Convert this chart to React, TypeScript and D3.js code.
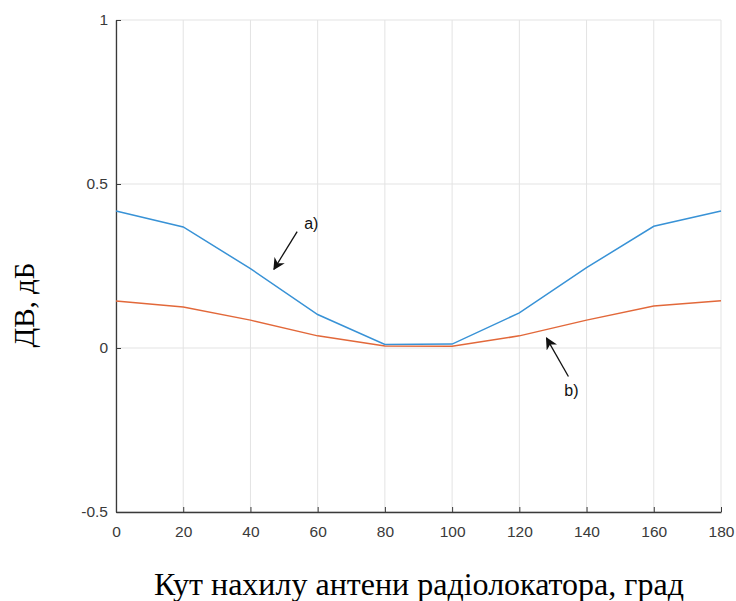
import React, { useEffect, useRef } from "react";
import * as d3 from "d3";

// tilt angle, degrees
const angles = [0, 20, 40, 60, 80, 100, 120, 140, 160, 180];
// curve a)
const seriesA = [0.418, 0.369, 0.242, 0.102, 0.011, 0.012, 0.107, 0.245, 0.371, 0.418];
// curve b)
const seriesB = [0.143, 0.125, 0.085, 0.037, 0.006, 0.005, 0.037, 0.085, 0.128, 0.144];

const xTicks = [0, 20, 40, 60, 80, 100, 120, 140, 160, 180];
const yTicks = [-0.5, 0, 0.5, 1];

// arrows in data units: [tailX, tailY, tipX, tipY]
const arrowA = [53.9, 0.355, 47.0, 0.24];
const arrowB = [134.6, -0.087, 128.1, 0.03];
const labelA = { x: 56, y: 0.362, text: "a)" };
const labelB = { x: 133.4, y: -0.146, text: "b)" };

const App = () => {
  const svgRef = useRef<SVGSVGElement>(null);

  useEffect(() => {
    const svg = d3.select(svgRef.current);
    svg.selectAll("*").remove();

    const W = 736;
    const H = 601;
    const margin = { top: 20, right: 15, bottom: 89, left: 116 };
    const width = W - margin.left - margin.right;
    const height = H - margin.top - margin.bottom;

    const g = svg.append("g").attr("transform", `translate(${margin.left},${margin.top})`);

    const x = d3.scaleLinear().domain([0, 180]).range([0, width]);
    const y = d3.scaleLinear().domain([-0.5, 1]).range([height, 0]);

    // grid
    g.append("g")
      .selectAll("line")
      .data(xTicks)
      .enter()
      .append("line")
      .attr("x1", (d) => x(d))
      .attr("x2", (d) => x(d))
      .attr("y1", 0)
      .attr("y2", height)
      .attr("stroke", "#e3e3e3")
      .attr("stroke-width", 1);

    g.append("g")
      .selectAll("line")
      .data(yTicks)
      .enter()
      .append("line")
      .attr("x1", 0)
      .attr("x2", width)
      .attr("y1", (d) => y(d))
      .attr("y2", (d) => y(d))
      .attr("stroke", "#e3e3e3")
      .attr("stroke-width", 1);

    const axisColor = "#3a3a3a";
    const tickFont = "Liberation Sans, Arial, sans-serif";

    // x axis, ticks inside
    const xAxis = g
      .append("g")
      .attr("transform", `translate(0,${height})`)
      .call(d3.axisBottom(x).tickValues(xTicks).tickSizeInner(-5).tickSizeOuter(0).tickPadding(14));
    xAxis.select(".domain").attr("stroke", axisColor).attr("stroke-width", 1.3);
    xAxis.selectAll("line").attr("stroke", axisColor);
    xAxis
      .selectAll("text")
      .style("font-family", tickFont)
      .style("font-size", "15.5px")
      .attr("fill", axisColor);

    // y axis, ticks inside
    const yAxis = g
      .append("g")
      .call(
        d3
          .axisLeft(y)
          .tickValues(yTicks)
          .tickFormat((d) => String(d))
          .tickSizeInner(-5)
          .tickSizeOuter(0)
          .tickPadding(8)
      );
    yAxis.select(".domain").attr("stroke", axisColor).attr("stroke-width", 1.3);
    yAxis.selectAll("line").attr("stroke", axisColor);
    yAxis
      .selectAll("text")
      .style("font-family", tickFont)
      .style("font-size", "15.5px")
      .attr("fill", axisColor);

    // lines
    const line = d3
      .line<number>()
      .x((_, i) => x(angles[i]))
      .y((d) => y(d));

    g.append("path")
      .datum(seriesA)
      .attr("fill", "none")
      .attr("stroke", "#3892d6")
      .attr("stroke-width", 1.5)
      .attr("d", line);

    g.append("path")
      .datum(seriesB)
      .attr("fill", "none")
      .attr("stroke", "#e2683a")
      .attr("stroke-width", 1.5)
      .attr("d", line);

    // arrow marker
    svg
      .append("defs")
      .append("marker")
      .attr("id", "head")
      .attr("viewBox", "0 0 10 10")
      .attr("refX", 9)
      .attr("refY", 5)
      .attr("markerWidth", 12)
      .attr("markerHeight", 12)
      .attr("markerUnits", "userSpaceOnUse")
      .attr("orient", "auto")
      .append("path")
      .attr("d", "M0,0 L10,5 L0,10 L3,5 Z")
      .attr("fill", "#111");

    [arrowA, arrowB].forEach((a) => {
      g.append("line")
        .attr("x1", x(a[0]))
        .attr("y1", y(a[1]))
        .attr("x2", x(a[2]))
        .attr("y2", y(a[3]))
        .attr("stroke", "#111")
        .attr("stroke-width", 1.3)
        .attr("marker-end", "url(#head)");
    });

    [labelA, labelB].forEach((l) => {
      g.append("text")
        .attr("x", x(l.x))
        .attr("y", y(l.y))
        .style("font-family", tickFont)
        .style("font-size", "16px")
        .attr("fill", "#111")
        .text(l.text);
    });

    // axis titles
    svg
      .append("text")
      .attr("x", 419)
      .attr("y", 595)
      .attr("text-anchor", "middle")
      .style("font-family", "Liberation Serif, Times New Roman, serif")
      .style("font-size", "32px")
      .attr("fill", "#000")
      .text("Кут нахилу антени радіолокатора, град");

    svg
      .append("text")
      .attr("transform", "translate(34,305) rotate(-90)")
      .attr("text-anchor", "middle")
      .style("font-family", "Liberation Serif, Times New Roman, serif")
      .style("font-size", "29px")
      .attr("fill", "#000")
      .text("ДВ, дБ");
  }, []);

  return <svg ref={svgRef} width={736} height={601} style={{ position: "absolute", left: 0, top: 0, background: "#fff" }} />;
};

export default App;
